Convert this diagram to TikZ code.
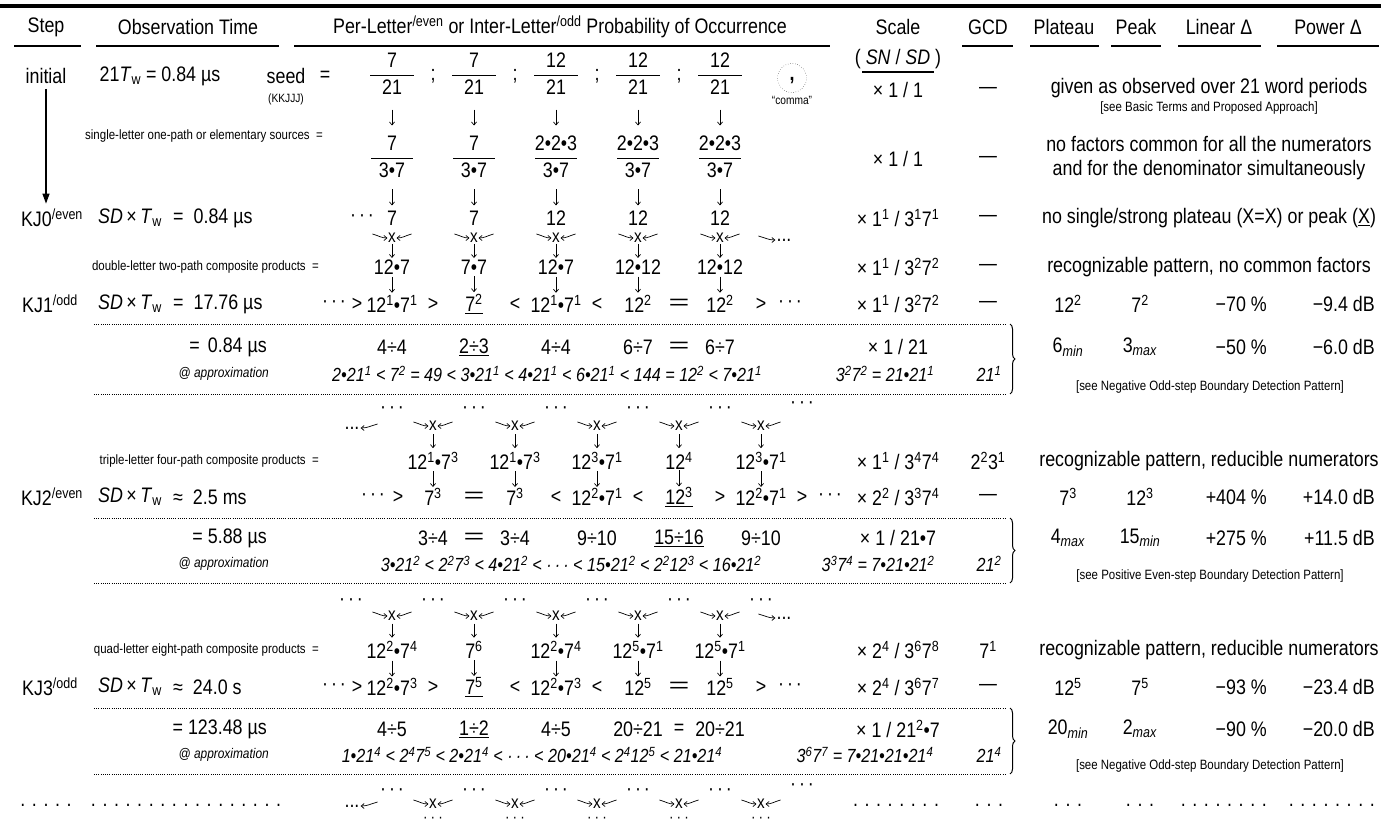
\documentclass[tikz,border=0pt]{standalone}
\usepackage{fontspec}
\setmainfont{Liberation Sans}[FakeStretch=0.85]
\usepackage{graphicx}
\usetikzlibrary{arrows.meta, calc, decorations.pathreplacing}

\newcommand{\sps}[1]{\textsuperscript{#1}}
\newcommand{\sbs}[1]{\textsubscript{#1}}
\newcommand{\Tw}{\textit{T}\sbs{w}}
\newcommand{\dbleq}{\scalebox{2}[1]{=}}
\newcommand{\uln}[1]{\underline{#1}}
\newcommand{\mdots}{·\hspace{3pt}·\hspace{3pt}·}
\setlength{\arrayrulewidth}{1.2pt}
\newcommand{\fr}[3][42pt]{\begin{tabular}{@{}c@{}}\makebox[#1]{#2}\\\hline\makebox[#1]{\rule{0pt}{18pt}#3}\end{tabular}}
% short arrow between two stacked entries
\newcommand{\dnarrow}[3][8]{\draw[dn] ($(#2.south)!.5!(#3.north)+(0,-#1)$) -- ($(#2.south)!.5!(#3.north)+(0,#1)$);}
% the two feeding arrows of a crossing
\newcommand{\crossin}[1]{%
  \draw[sa] ($(#1.west)+(-15,-4)$) to[out=-15,in=180] (#1.west);
  \draw[sa] ($(#1.east)+(15,-4)$) to[out=195,in=0] (#1.east);}

\tikzset{
  hd/.style={font=\fontsize{21}{24}\selectfont, inner sep=1pt},
  txt/.style={font=\fontsize{21}{24}\selectfont, inner sep=1pt},
  smalltxt/.style={font=\fontsize{13.5}{16}\selectfont, inner sep=1pt},
  tinytxt/.style={font=\fontsize{13.5}{15}\selectfont, inner sep=1pt},
  minitxt/.style={font=\fontsize{12}{14}\selectfont, inner sep=1pt},
  apnote/.style={font=\fontsize{14}{16}\selectfont\itshape, inner sep=1pt},
  apx/.style={font=\fontsize{19}{22}\selectfont\itshape, inner sep=1pt},
  crs/.style={font=\fontsize{18}{20}\selectfont, inner sep=0.5pt},
  lowdots/.style={font=\fontsize{16}{18}\selectfont, inner sep=0pt},
  sa/.style={-{Straight Barb[length=3pt,width=5pt]}, line width=0.7pt},
  dn/.style={-{Straight Barb[length=3pt,width=5pt]}, line width=0.7pt},
  big/.style={-{Triangle[length=10pt,width=7pt]}, line width=1.2pt},
  rulex/.style={line width=1.3pt},
  dotsep/.style={line width=0.9pt, dash pattern=on 0.9pt off 1.3pt},
  brc/.style={decorate, decoration={brace, amplitude=5pt}, line width=1pt},
}

\begin{document}
\begin{tikzpicture}[x=1pt, y=-1pt]
\useasboundingbox (0,0) rectangle (1381,825);

% header
\draw[line width=4pt] (0,6) -- (1381,6);
\node[hd] (hStep)  at (46,27)   {Step};
\node[hd] (hObs)   at (188,27)  {Observation Time};
\node[hd] (hProb)  at (560,27)  {Per-Letter\sps{/even} or Inter-Letter\sps{/odd} Probability of Occurrence};
\node[hd] (hScale) at (898,27)  {Scale};
\node[hd] (hSNSD)  at (898,59)  {( \textit{SN} / \textit{SD} )};
\node[hd] (hGCD)   at (988,27)  {GCD};
\node[hd] (hPlat)  at (1064,27) {Plateau};
\node[hd] (hPeak)  at (1136,27) {Peak};
\node[hd] (hLin)   at (1219,27) {Linear Δ};
\node[hd] (hPow)   at (1328,27) {Power Δ};
\foreach \a/\b in {14/81, 96/279, 294/830, 962/1013, 1030/1099, 1111/1161, 1178/1261, 1277/1379}
  \draw[rulex] (\a,46) -- (\b,46);
\draw[rulex] (862,72) -- (934,72);

% initial
\node[txt] (stIni) at (46,76) {initial};
\node[txt] (obIni) at (160,76) {21\Tw\ = 0.84 µs};
\node[txt] (seedL) at (286,76) {seed};
\node[txt] (seedEq) at (325,76) {=};
\node[minitxt] (seedK) at (286,99) {(KKJJJ)};
\foreach \n/\d [count=\i] in {7/21,7/21,12/21,12/21,12/21}
  \node[txt] (seed\i) at ({310+82*\i},76) {\fr[44pt]{\n}{\d}};
\foreach \i in {1,...,4}
  \node[txt] (semi\i) at ({351+82*\i},76) {;};
\node[draw, dotted, circle, minimum size=29pt, inner sep=0pt] (comma) at (792,78) {};
\node[txt] (commaG) at (comma.center) {\raisebox{-9pt}{\textbf{,}}};
\node[minitxt] (commaL) at (792,100) {“comma”};
\node[txt] (scIni) at (898,90) {× 1 / 1};
\node[txt] (gcIni) at (988,90) {—};
\node[txt] (rtIni) at (1209,88) {given as observed over 21 word periods};
\node[tinytxt] (rtIniB) at (1209,108) {[see Basic Terms and Proposed Approach]};

% single-letter sources
\node[smalltxt, anchor=east] (labA) at (324,136) {single-letter one-path or elementary sources\ \ =};
\foreach \n [count=\i] in {7,7,2•2•3,2•2•3,2•2•3}
  \node[txt] (el\i) at ({310+82*\i},159) {\fr[42pt]{\n}{3•7}};
\foreach \i in {1,...,5} {\dnarrow{seed\i}{el\i}}
\node[txt] (scEl) at (898,159) {× 1 / 1};
\node[txt] (gcEl) at (988,159) {—};
\node[txt, align=center] (rtEl) at (1209,158) {no factors common for all the numerators\\and for the denominator simultaneously};

% KJ0
\node[txt] (st0) at (52,218) {KJ0\sps{/even}};
\draw[big, shorten <=4pt, shorten >=4pt] (stIni.south) -- (stIni.south |- st0.north);
\node[txt] (sdA) at (130,218) {\textit{SD}\,×\,\Tw};
\node[txt, anchor=west] (ob0) at (172,218) {=\hspace{10pt}0.84 µs};
\node[txt] (k0) at (362,218) {\mdots};
\foreach \v [count=\i] in {7,7,12,12,12}
  \node[txt] (k\i) at ({310+82*\i},218) {\v};
\foreach \i in {1,...,5} {\dnarrow{el\i}{k\i}}
\node[txt] (sc0) at (898,218) {× 1\sps{1} / 3\sps{1}7\sps{1}};
\node[txt] (gc0) at (988,218) {—};
\node[txt] (rt0) at (1209,218) {no single/strong plateau (X=X) or peak (\uln{X})};

% KJ0 -> KJ1
\foreach \i in {1,...,5} {
  \node[crs] (xa\i) at ({310+82*\i},238) {x};
  \crossin{xa\i}
}
\node[txt] (xaE) at (784,240) {...};
\draw[sa] ($(xaE.west)+(-17,-4)$) to[out=-15,in=180] (xaE.west);
\node[smalltxt, anchor=east] (labB) at (320,267) {double-letter two-path composite products\ \ =};
\foreach \v [count=\i] in {12•7,7•7,12•7,12•12,12•12}
  \node[txt] (pb\i) at ({310+82*\i},267) {\v};
\foreach \i in {1,...,5} {\dnarrow[7]{xa\i}{pb\i}}
\node[txt] (scB) at (898,267) {× 1\sps{1} / 3\sps{2}7\sps{2}};
\node[txt] (gcB) at (988,267) {—};
\node[txt] (rtB) at (1209,267) {recognizable pattern, no common factors};

% KJ1
\node[txt] (st1) at (50,304) {KJ1\sps{/odd}};
\node[txt] (sdB) at (130,304) {\textit{SD}\,×\,\Tw};
\node[txt, anchor=west] (ob1) at (172,304) {=\hspace{10pt}17.76 µs};
\node[txt] (v0) at (334,304) {\mdots};
\node[txt] (v0r) at (357,304) {>};
\foreach \v [count=\i] in {12\sps{1}•7\sps{1}, \uln{7\sps{2}}, 12\sps{1}•7\sps{1}, 12\sps{2}, 12\sps{2}}
  \node[txt] (v\i) at ({310+82*\i},304) {\v};
\foreach \r [count=\i] in {>,<,<,\dbleq,>}
  \node[txt] (vr\i) at ({351+82*\i},304) {\r};
\node[txt] (vE) at (790,304) {\mdots};
\foreach \i in {1,...,5} {\dnarrow{pb\i}{v\i}}
\node[txt] (sc1) at (898,304) {× 1\sps{1} / 3\sps{2}7\sps{2}};
\node[txt] (gc1) at (988,304) {—};
\node[txt] (pl1) at (1068,304) {12\sps{2}};
\node[txt] (pk1) at (1140,304) {7\sps{2}};
\node[txt, anchor=east] (ln1) at (1268,304) {−70 \%};
\node[txt, anchor=east] (pw1) at (1376,304) {−9.4 dB};

% KJ1 approximation box
\draw[dotsep] (94,324) -- (1006,324);
\draw[dotsep] (94,394) -- (1006,394);
\draw[brc] (1010,324) -- (1010,394);
\node[txt, anchor=east] (obA1) at (268,347) {=\hspace{8pt}0.84 µs};
\foreach \v [count=\i] in {4÷4,\uln{2÷3},4÷4,6÷7,6÷7}
  \node[txt] (aa\i) at ({310+82*\i},347) {\v};
\node[txt] (aaQ) at (679,347) {\dbleq};
\node[txt] (scA1) at (898,347) {× 1 / 21};
\node[txt] (plA1) at (1068,347) {6\sbs{\textit{min}}};
\node[txt] (pkA1) at (1140,347) {3\sbs{\textit{max}}};
\node[txt, anchor=east] (lnA1) at (1268,347) {−50 \%};
\node[txt, anchor=east] (pwA1) at (1376,347) {−6.0 dB};
\node[apnote, anchor=east] (apA1) at (270,374) {@ approximation};
\node[apx] (fmA1) at (547,374) {2•21\sps{1} < 7\sps{2} = 49 < 3•21\sps{1} < 4•21\sps{1} < 6•21\sps{1} < 144 = 12\sps{2} < 7•21\sps{1}};
\node[apx] (scF1) at (885,374) {3\sps{2}7\sps{2} = 21•21\sps{1}};
\node[apx] (gcF1) at (989,374) {21\sps{1}};
\node[tinytxt] (seeA1) at (1210,387) {[see Negative Odd-step Boundary Detection Pattern]};

% KJ1 -> KJ2
\foreach \i in {1,...,5}
  \node[txt] (ub\i) at ({310+82*\i},410) {\mdots};
\node[txt] (ub6) at (802,405) {\mdots};
\node[txt] (xbS) at (352,428) {...};
\draw[sa] ($(xbS.east)+(17,-4)$) to[out=195,in=0] (xbS.east);
\foreach \i in {1,...,5} {
  \node[crs] (xb\i) at ({351+82*\i},426) {x};
  \crossin{xb\i}
}
\node[smalltxt, anchor=east] (labC) at (320,461) {triple-letter four-path composite products\ \ =};
\foreach \v [count=\i] in {12\sps{1}•7\sps{3}, 12\sps{1}•7\sps{3}, 12\sps{3}•7\sps{1}, 12\sps{4}, 12\sps{3}•7\sps{1}}
  \node[txt] (tc\i) at ({351+82*\i},461) {\v};
\foreach \i in {1,...,5} {\dnarrow[7]{xb\i}{tc\i}}
\node[txt] (scC) at (898,461) {× 1\sps{1} / 3\sps{4}7\sps{4}};
\node[txt] (gcC) at (988,461) {2\sps{2}3\sps{1}};
\node[txt] (rtC) at (1209,461) {recognizable pattern, reducible numerators};

% KJ2
\node[txt] (st2) at (52,497) {KJ2\sps{/even}};
\node[txt] (sdC) at (130,497) {\textit{SD}\,×\,\Tw};
\node[txt, anchor=west] (ob2) at (172,497) {≈\hspace{10pt}2.5 ms};
\node[txt] (w0) at (373,497) {\mdots};
\node[txt] (w0r) at (398,497) {>};
\foreach \v [count=\i] in {7\sps{3}, 7\sps{3}, 12\sps{2}•7\sps{1}, \uln{12\sps{3}}, 12\sps{2}•7\sps{1}}
  \node[txt] (w\i) at ({351+82*\i},497) {\v};
\foreach \r [count=\i] in {\dbleq,<,<,>,>}
  \node[txt] (wr\i) at ({392+82*\i},497) {\r};
\node[txt] (wE) at (830,497) {\mdots};
\foreach \i in {1,...,5} {\dnarrow{tc\i}{w\i}}
\node[txt] (sc2) at (898,497) {× 2\sps{2} / 3\sps{3}7\sps{4}};
\node[txt] (gc2) at (988,497) {—};
\node[txt] (pl2) at (1068,497) {7\sps{3}};
\node[txt] (pk2) at (1140,497) {12\sps{3}};
\node[txt, anchor=east] (ln2) at (1268,497) {+404 \%};
\node[txt, anchor=east] (pw2) at (1376,497) {+14.0 dB};

% KJ2 approximation box
\draw[dotsep] (94,518) -- (1006,518);
\draw[dotsep] (94,583) -- (1006,583);
\draw[brc] (1010,518) -- (1010,583);
\node[txt, anchor=east] (obA2) at (268,538) {=\hspace{5pt}5.88 µs};
\foreach \v [count=\i] in {3÷4,3÷4,9÷10,\uln{15÷16},9÷10}
  \node[txt] (bb\i) at ({351+82*\i},538) {\v};
\node[txt] (bbQ) at (474,538) {\dbleq};
\node[txt] (scA2) at (898,538) {× 1 / 21•7};
\node[txt] (plA2) at (1068,538) {4\sbs{\textit{max}}};
\node[txt] (pkA2) at (1140,538) {15\sbs{\textit{min}}};
\node[txt, anchor=east] (lnA2) at (1268,538) {+275 \%};
\node[txt, anchor=east] (pwA2) at (1376,538) {+11.5 dB};
\node[apnote, anchor=east] (apA2) at (270,564) {@ approximation};
\node[apx] (fmA2) at (571,564) {3•21\sps{2} < 2\sps{2}7\sps{3} < 4•21\sps{2} < ·\,·\,· < 15•21\sps{2} < 2\sps{2}12\sps{3} < 16•21\sps{2}};
\node[apx] (scF2) at (878,564) {3\sps{3}7\sps{4} = 7•21•21\sps{2}};
\node[apx] (gcF2) at (989,564) {21\sps{2}};
\node[tinytxt] (seeA2) at (1210,576) {[see Positive Even-step Boundary Detection Pattern]};

% KJ2 -> KJ3
\foreach \i in {1,...,6}
  \node[txt] (uc\i) at ({269+82*\i},602) {\mdots};
\foreach \i in {1,...,5} {
  \node[crs] (xc\i) at ({310+82*\i},616) {x};
  \crossin{xc\i}
}
\node[txt] (xcE) at (784,618) {...};
\draw[sa] ($(xcE.west)+(-17,-4)$) to[out=-15,in=180] (xcE.west);
\node[smalltxt, anchor=east] (labD) at (320,650) {quad-letter eight-path composite products\ \ =};
\foreach \v [count=\i] in {12\sps{2}•7\sps{4}, 7\sps{6}, 12\sps{2}•7\sps{4}, 12\sps{5}•7\sps{1}, 12\sps{5}•7\sps{1}}
  \node[txt] (qd\i) at ({310+82*\i},650) {\v};
\foreach \i in {1,...,5} {\dnarrow[7]{xc\i}{qd\i}}
\node[txt] (scD) at (898,650) {× 2\sps{4} / 3\sps{6}7\sps{8}};
\node[txt] (gcD) at (988,650) {7\sps{1}};
\node[txt] (rtD) at (1209,650) {recognizable pattern, reducible numerators};

% KJ3
\node[txt] (st3) at (50,687) {KJ3\sps{/odd}};
\node[txt] (sdD) at (130,687) {\textit{SD}\,×\,\Tw};
\node[txt, anchor=west] (ob3) at (172,687) {≈\hspace{10pt}24.0 s};
\node[txt] (u0) at (334,687) {\mdots};
\node[txt] (u0r) at (357,687) {>};
\foreach \v [count=\i] in {12\sps{2}•7\sps{3}, \uln{7\sps{5}}, 12\sps{2}•7\sps{3}, 12\sps{5}, 12\sps{5}}
  \node[txt] (u\i) at ({310+82*\i},687) {\v};
\foreach \r [count=\i] in {>,<,<,\dbleq,>}
  \node[txt] (ur\i) at ({351+82*\i},687) {\r};
\node[txt] (uE) at (790,687) {\mdots};
\foreach \i in {1,...,5} {\dnarrow{qd\i}{u\i}}
\node[txt] (sc3) at (898,687) {× 2\sps{4} / 3\sps{6}7\sps{7}};
\node[txt] (gc3) at (988,687) {—};
\node[txt] (pl3) at (1068,687) {12\sps{5}};
\node[txt] (pk3) at (1140,687) {7\sps{5}};
\node[txt, anchor=east] (ln3) at (1268,687) {−93 \%};
\node[txt, anchor=east] (pw3) at (1376,687) {−23.4 dB};

% KJ3 approximation box
\draw[dotsep] (94,708) -- (1006,708);
\draw[dotsep] (94,774) -- (1006,774);
\draw[brc] (1010,708) -- (1010,774);
\node[txt, anchor=east] (obA3) at (268,729) {=\hspace{5pt}123.48 µs};
\foreach \v [count=\i] in {4÷5,\uln{1÷2},4÷5,20÷21,20÷21}
  \node[txt] (cc\i) at ({310+82*\i},729) {\v};
\node[txt] (ccQ) at (679,729) {=};
\node[txt] (scA3) at (898,729) {× 1 / 21\sps{2}•7};
\node[txt] (plA3) at (1068,729) {20\sbs{\textit{min}}};
\node[txt] (pkA3) at (1140,729) {2\sbs{\textit{max}}};
\node[txt, anchor=east] (lnA3) at (1268,729) {−90 \%};
\node[txt, anchor=east] (pwA3) at (1376,729) {−20.0 dB};
\node[apnote, anchor=east] (apA3) at (270,755) {@ approximation};
\node[apx] (fmA3) at (532,755) {1•21\sps{4} < 2\sps{4}7\sps{5} < 2•21\sps{4} < ·\,·\,· < 20•21\sps{4} < 2\sps{4}12\sps{5} < 21•21\sps{4}};
\node[apx] (scF3) at (865,755) {3\sps{6}7\sps{7} = 7•21•21•21\sps{4}};
\node[apx] (gcF3) at (989,755) {21\sps{4}};
\node[tinytxt] (seeA3) at (1210,766) {[see Negative Odd-step Boundary Detection Pattern]};

% KJ3 -> next
\foreach \i in {1,...,5}
  \node[txt] (ud\i) at ({310+82*\i},792) {\mdots};
\node[txt] (ud6) at (802,787) {\mdots};
\node[txt] (xdS) at (352,806) {...};
\draw[sa] ($(xdS.east)+(17,-4)$) to[out=195,in=0] (xdS.east);
\foreach \i in {1,...,5} {
  \node[crs] (xd\i) at ({351+82*\i},804) {x};
  \crossin{xd\i}
  \node[lowdots] (ld\i) at ({351+82*\i},820) {\mdots};
}
\node[txt] (stE) at (46,805) {. . . . .};
\node[txt] (obE) at (186,805) {. . . . . . . . . . . . . . . . .};
\node[txt] (scE) at (896,805) {. . . . . . . .};
\node[txt] (gcE) at (989,805) {. . .};
\node[txt] (plE) at (1068,805) {. . .};
\node[txt] (pkE) at (1140,805) {. . .};
\node[txt, anchor=east] (lnE) at (1268,805) {. . . . . . . .};
\node[txt, anchor=east] (pwE) at (1376,805) {. . . . . . . .};
\end{tikzpicture}
\end{document}
